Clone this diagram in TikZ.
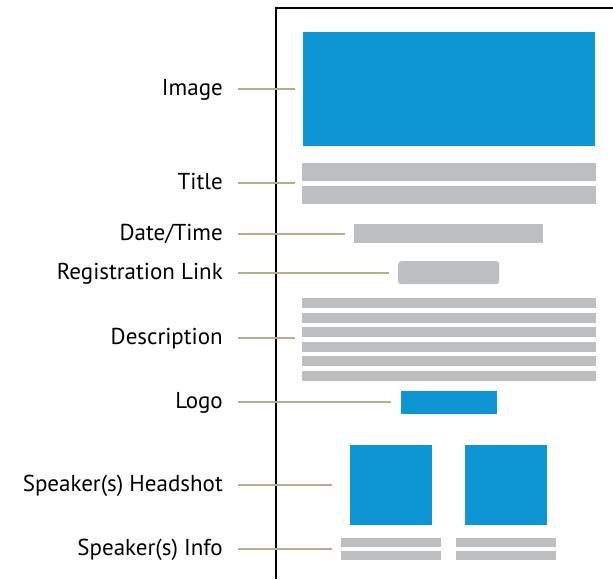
\documentclass[tikz,border=0pt]{standalone}
\usepackage{fontspec}
\setmainfont{PT Sans}
\definecolor{imgblue}{RGB}{14,150,212}
\definecolor{bargray}{RGB}{189,190,192}
\definecolor{leader}{RGB}{184,172,140}
\begin{document}
\begin{tikzpicture}[x=1pt,y=-1pt,
  blk/.style={fill=imgblue,draw=none,inner sep=0pt,anchor=north west},
  bar/.style={fill=bargray,draw=none,inner sep=0pt,anchor=north west},
  lbl/.style={anchor=base east,inner sep=0pt,font=\fontsize{23}{26}\selectfont},
  ldr/.style={draw=leader,line width=1.1pt},
  frame/.style={draw=black,line width=2pt}]
\useasboundingbox (0,0) rectangle (613,579);
% page frame
\coordinate (ftop) at (613,8);
\coordinate (fcorner) at (276,8);
\coordinate (fbot) at (276,579);
\draw[frame] (ftop) -- (fcorner) -- (fbot);
% elements
\node[blk,minimum width=292pt,minimum height=114pt] (img) at (303,32) {};
\node[bar,minimum width=294pt,minimum height=18pt] (t1) at (302,163) {};
\node[bar,minimum width=294pt,minimum height=18pt] (t2) at (302,186) {};
\node[bar,minimum width=189pt,minimum height=19pt] (dt) at (354,224) {};
\node[bar,minimum width=101pt,minimum height=23pt,rounded corners=3pt] (reg) at (398,261) {};
\foreach \i/\y in {1/298,2/313,3/327,4/342,5/356,6/371}
  \node[bar,minimum width=294pt,minimum height=10pt] (d\i) at (302,\y) {};
\node[blk,minimum width=96pt,minimum height=23pt] (logo) at (401,391) {};
\node[blk,minimum width=82pt,minimum height=80pt] (h1) at (350,445) {};
\node[blk,minimum width=82pt,minimum height=80pt] (h2) at (465,445) {};
\node[bar,minimum width=100pt,minimum height=9pt] (i1a) at (341,538) {};
\node[bar,minimum width=100pt,minimum height=9pt] (i1b) at (341,551) {};
\node[bar,minimum width=100pt,minimum height=9pt] (i2a) at (456,538) {};
\node[bar,minimum width=100pt,minimum height=9pt] (i2b) at (456,551) {};
% labels and leaders
\foreach \n/\t/\y/\e in {Limg/Image/89/295, Ltit/Title/183/295, Ldt/Date\slash Time/234/345,
   Lreg/Registration Link/273/389, Ldesc/Description/338/295, Llogo/Logo/402/391,
   Lhead/Speaker(s) Headshot/485/332, Linfo/Speaker(s) Info/549/332}{
  \node[lbl] (\n) at (223,\y+6) {\t};
  \coordinate (\n s) at (238,\y);
  \coordinate (\n e) at (\e,\y);
  \draw[ldr] (\n s) -- (\n e);
}
\end{tikzpicture}
\end{document}
